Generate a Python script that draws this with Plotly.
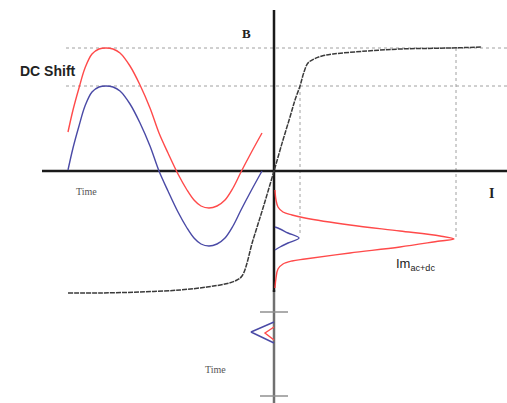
import plotly.graph_objects as go

# ---- data (diagram coordinates, pixel-like units, y grows downward) ----
blue_x = [68, 73, 79, 85, 92, 99, 106, 113, 120, 130, 140, 150, 159, 168, 178, 187, 194, 201, 209, 217, 225, 233, 241, 251, 262]
blue_y = [170, 148, 126, 106, 92, 87, 86, 87, 91, 104, 123, 146, 171, 191, 212, 228, 238, 244, 246, 244, 238, 226, 210, 191, 171]
red_x = [68, 73, 79, 85, 92, 99, 106, 113, 120, 130, 140, 150, 159, 168, 178, 187, 194, 201, 209, 217, 225, 233, 241, 251, 262]
red_y = [132, 110, 88, 68, 54, 49, 48, 49, 53, 66, 85, 108, 133, 153, 174, 190, 200, 206, 208, 206, 200, 188, 172, 153, 133]

bh_x = [68, 100, 140, 180, 207, 225, 235, 242, 253, 263, 274, 283, 290, 295, 300, 304, 308, 314, 322, 333, 367, 400, 450, 482]
bh_y = [293, 293, 292, 290, 287, 284, 281, 276, 240, 208, 171, 140, 117, 100, 86, 72, 63, 59, 56, 54, 51, 49, 48, 47]

ired_x = [275, 276, 278, 283, 292, 305, 350, 400, 440, 454, 440, 400, 350, 305, 292, 283, 278, 276, 275]
ired_y = [190, 200, 207, 212, 215, 218, 225, 231, 236, 239, 241, 247, 253, 259, 261, 264, 269, 278, 288]
iblue_x = [275, 280, 288, 299, 288, 280, 275]
iblue_y = [227, 229, 233, 238, 243, 247, 250]

tblue_x = [274, 251, 274]
tblue_y = [322, 332, 343]
tred_x = [274, 265, 274]
tred_y = [327, 333, 340]

haxis_x = [42, 507]
haxis_y = [171, 171]
vaxis_top_x = [274, 274]
vaxis_top_y = [10, 292]
vaxis_bot_x = [274, 274]
vaxis_bot_y = [290, 403]
tick_x = [[260, 288], [260, 288]]
tick_y = [[312, 312], [396, 396]]

hdot_x = [[66, 507], [66, 507]]
hdot_y = [[48, 48], [86, 86]]
vdot_x = [[300, 300], [456, 456]]
vdot_y = [[86, 233], [48, 238]]

labels = ["B", "DC Shift", "Time", "Time", "I", "Im<sub>ac+dc</sub>"]

RED = "#ff4a4a"
BLUE = "#4a4aa6"

fig = go.Figure()

def line(x, y, color, width, dash="solid", shape="linear"):
    fig.add_trace(go.Scatter(x=x, y=y, mode="lines", hoverinfo="skip",
                             line=dict(color=color, width=width, dash=dash, shape=shape),
                             showlegend=False))

for xs, ys in zip(hdot_x, hdot_y):
    line(xs, ys, "#a0a0a0", 1, "dot")
for xs, ys in zip(vdot_x, vdot_y):
    line(xs, ys, "#a0a0a0", 1, "dot")

line(haxis_x, haxis_y, "#1a1a1a", 2.5)
line(vaxis_bot_x, vaxis_bot_y, "#707070", 2.5)
line(vaxis_top_x, vaxis_top_y, "#1a1a1a", 2.5)
for xs, ys in zip(tick_x, tick_y):
    line(xs, ys, "#909090", 1.5)

line(red_x, red_y, RED, 1.4, shape="spline")
line(blue_x, blue_y, BLUE, 1.4, shape="spline")
line(bh_x, bh_y, "#3a3a3a", 1.5, dash="5px,1px", shape="spline")
line(ired_x, ired_y, RED, 1.4, shape="spline")
line(iblue_x, iblue_y, BLUE, 1.4, shape="spline")
line(tblue_x, tblue_y, BLUE, 1.4)
line(tred_x, tred_y, RED, 1.4)

serif = "Liberation Serif"
sans = "Liberation Sans"
ann = [
    dict(text="<b>%s</b>" % labels[0], x=246, y=33, font=dict(family=serif, size=13, color="#222")),
    dict(text="<b>%s</b>" % labels[1], x=48, y=71, font=dict(family=sans, size=14, color="#222")),
    dict(text=labels[2], x=86, y=191, font=dict(family=serif, size=10, color="#555")),
    dict(text=labels[3], x=215, y=369, font=dict(family=serif, size=10, color="#555")),
    dict(text="<b>%s</b>" % labels[4], x=491, y=193, font=dict(family=serif, size=14, color="#222")),
    dict(text=labels[5], x=415, y=264, font=dict(family=sans, size=13, color="#222")),
]
for a in ann:
    fig.add_annotation(xref="x", yref="y", showarrow=False, xanchor="center", yanchor="middle", **a)

fig.update_layout(width=507, height=403, margin=dict(l=0, r=0, t=0, b=0),
                  paper_bgcolor="white", plot_bgcolor="white")
fig.update_xaxes(range=[0, 507], visible=False, fixedrange=True)
fig.update_yaxes(range=[403, 0], visible=False, fixedrange=True)

fig.write_html("out.html")
